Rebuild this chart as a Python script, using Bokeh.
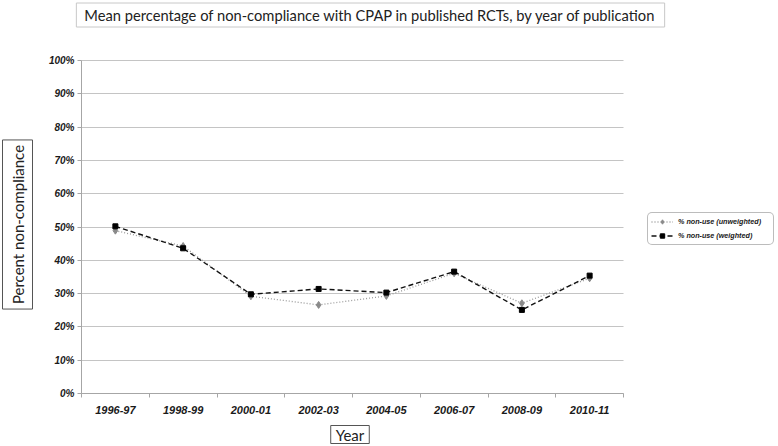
import math
from bokeh.plotting import figure
from bokeh.models import (Range1d, FixedTicker, NumeralTickFormatter, Label,
                          Legend, LegendItem)
from bokeh.embed import file_html
from bokeh.resources import INLINE

categories = ["1996-97", "1998-99", "2000-01", "2002-03", "2004-05",
              "2006-07", "2008-09", "2010-11"]
unweighted = [0.489, 0.443, 0.292, 0.266, 0.293, 0.361, 0.271, 0.346]
weighted = [0.502, 0.436, 0.298, 0.314, 0.303, 0.366, 0.251, 0.354]
y_ticks = [i / 10 for i in range(11)]

title_text = "Mean percentage of non-compliance with CPAP in published RCTs, by year of publication"

W, H = 778, 446
# plot area in pixels (layout, not data)
PL, PR, PT, PB = 81, 623, 60, 393

xs = list(range(len(categories)))
x0, x1 = -0.5, len(categories) - 0.5
kx = (x1 - x0) / (PR - PL)
ky = 1.0 / (PB - PT)

p = figure(width=W, height=H, output_backend="svg", toolbar_location=None,
           x_range=Range1d(x0 - PL * kx, x1 + (W - PR) * kx),
           y_range=Range1d(-(H - PB) * ky, 1 + PT * ky),
           min_border=0, min_border_left=0, min_border_right=0,
           min_border_top=0, min_border_bottom=0)
p.outline_line_color = None
p.background_fill_color = "white"
p.border_fill_color = "white"

TICK_FONT = "Liberation Sans"
LBL_FONT = "Lato"
AX_COL = "#a6a6a6"

# x axis
xa = p.xaxis[0]
xa.fixed_location = 0
xa.bounds = (x0, x1)
xa.ticker = FixedTicker(ticks=xs, minor_ticks=[x - 0.5 for x in xs] + [xs[-1] + 0.5])
xa.major_label_overrides = {i: c for i, c in zip(xs, categories)}
xa.major_tick_out = 0
xa.major_tick_in = 0
xa.minor_tick_out = 4
xa.minor_tick_in = 0
xa.minor_tick_line_color = AX_COL
xa.axis_line_color = AX_COL
xa.major_label_text_font = TICK_FONT
xa.major_label_text_font_style = "bold italic"
xa.major_label_text_font_size = "11px"
xa.major_label_text_color = "#1a1a1a"
xa.major_label_standoff = 8
p.xgrid.grid_line_color = None

# y axis
ya = p.yaxis[0]
ya.fixed_location = x0
ya.bounds = (0, 1)
ya.ticker = FixedTicker(ticks=y_ticks)
ya.formatter = NumeralTickFormatter(format="0%")
ya.major_tick_out = 4
ya.major_tick_in = 0
ya.minor_tick_line_color = None
ya.major_tick_line_color = AX_COL
ya.axis_line_color = AX_COL
ya.major_label_text_font = TICK_FONT
ya.major_label_text_font_style = "bold italic"
ya.major_label_text_font_size = "10px"
ya.major_label_text_color = "#1a1a1a"
ya.major_label_standoff = 3

GRID_COL = "#c4c4c4"
p.ygrid.grid_line_color = GRID_COL
p.ygrid.grid_line_width = 1.2
p.ygrid.bounds = (0.05, 1)
try:
    p.ygrid.cross_bounds = (x0, x1)
except Exception:
    p.ygrid.grid_line_color = None
    p.segment(x0=[x0] * (len(y_ticks) - 1), x1=[x1] * (len(y_ticks) - 1),
              y0=y_ticks[1:], y1=y_ticks[1:], line_color=GRID_COL, line_width=1.2)

# series
l1 = p.line(xs, unweighted, line_color="#9a9a9a", line_width=1.3, line_dash="1 2")
m1 = p.scatter(xs, unweighted, marker="diamond", size=7, fill_color="#8a8a8a",
               line_color="#8a8a8a")
l2 = p.line(xs, weighted, line_color="#111111", line_width=1.4, line_dash="5 3")
m2 = p.scatter(xs, weighted, marker="square", size=5, fill_color="#000000",
               line_color="#000000")

legend = Legend(items=[
    LegendItem(label="% non-use (unweighted)", renderers=[l1, m1]),
    LegendItem(label="% non-use (weighted)", renderers=[l2, m2]),
], location=(647, H - 245))
legend.margin = 0
legend.padding = 3
legend.spacing = 3
legend.glyph_width = 22
legend.glyph_height = 11
legend.label_standoff = 5
legend.label_height = 11
legend.label_width = 92
legend.label_text_font = TICK_FONT
legend.label_text_font_style = "bold italic"
legend.label_text_font_size = "7.2px"
legend.label_text_color = "#1a1a1a"
legend.border_line_color = "#7a7a7a"
legend.border_line_width = 1
legend.background_fill_color = "white"
legend.background_fill_alpha = 1
try:
    legend.border_radius = 5
except Exception:
    pass
p.add_layout(legend)

title = Label(x=370, y=H - 14.5, x_units="screen", y_units="screen", text=title_text,
              text_font=LBL_FONT, text_font_size="14.7px", text_color="#222222",
              text_align="center", text_baseline="middle",
              border_line_color="#c8c8c8", background_fill_color="white",
              padding=(8, 3))
p.add_layout(title)

ylab = Label(x=17, y=H - 224, x_units="screen", y_units="screen",
             text="Percent non-compliance", angle=math.pi / 2,
             text_font=LBL_FONT, text_font_size="15px", text_color="#222222",
             text_align="center", text_baseline="middle",
             border_line_color="#555555", background_fill_color="white",
             padding=(5, 6))
p.add_layout(ylab)

xlab = Label(x=349.5, y=H - 434, x_units="screen", y_units="screen", text="Year",
             text_font=LBL_FONT, text_font_size="15px", text_color="#222222",
             text_align="center", text_baseline="middle",
             border_line_color="#555555", background_fill_color="white",
             padding=(5, 0))
p.add_layout(xlab)

open("out.html", "w").write(file_html(p, INLINE))
